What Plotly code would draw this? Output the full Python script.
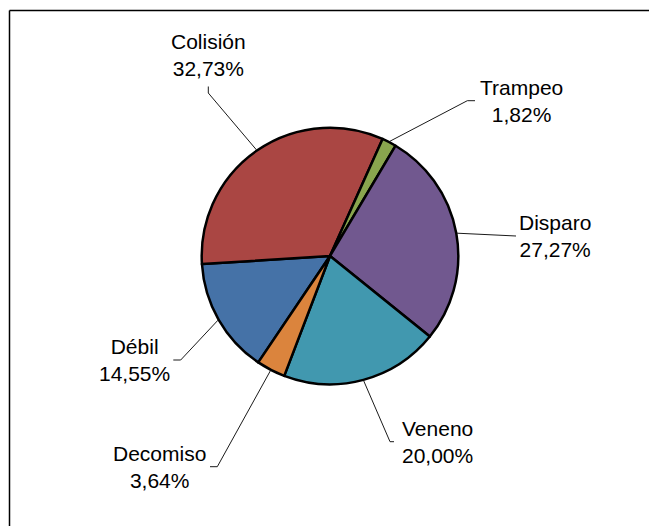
import math
import plotly.graph_objects as go

# ---- data ----
categories = ["Débil", "Colisión", "Trampeo", "Disparo", "Veneno", "Decomiso"]
percentages = [14.55, 32.73, 1.82, 27.27, 20.00, 3.64]
colors = ["#4572A7", "#AA4643", "#89A54E", "#71588F", "#4198AF", "#DB843D"]

# ---- layout constants (pixels) ----
W, H = 649, 526
CX, CY = 330.0, 256.0        # pie centre
R = 128.3                    # pie radius (outline adds ~1px)
ROTATION = 214               # start angle of first slice, clockwise from 12 o'clock
FONT = dict(family="Liberation Sans, Arial, sans-serif", size=21, color="#000000")

# label text centre, leader elbow and leader end (pixels)
label_layout = {
    "Colisión": dict(text=(208.5, 54.5), elbow=(208.3, 93.0), end=(208.3, 86.5)),
    "Trampeo":  dict(text=(521.7, 100.5), elbow=(467.3, 100.7), end=(475.0, 100.7)),
    "Disparo":  dict(text=(555.0, 236.0), elbow=(516.0, 236.0), end=(516.0, 236.0)),
    "Veneno":   dict(text=(437.5, 442.0), elbow=(390.0, 441.7), end=(394.0, 441.7)),
    "Débil":    dict(text=(134.0, 359.5), elbow=(180.7, 360.0), end=(173.3, 360.0)),
    "Decomiso": dict(text=(159.0, 467.0), elbow=(217.3, 466.7), end=(210.0, 466.7)),
}


def px(x):
    return x / W


def py(y):
    return 1 - y / H


fig = go.Figure()
fig.add_trace(go.Pie(
    labels=categories,
    values=percentages,
    sort=False,
    direction="clockwise",
    rotation=ROTATION,
    marker=dict(colors=colors, line=dict(color="#000000", width=2.5)),
    textinfo="none",
    hoverinfo="skip",
    showlegend=False,
    domain=dict(x=[px(CX - R), px(CX + R)], y=[py(CY + R), py(CY - R)]),
))

total = sum(percentages)
shapes = []
annotations = []
cum = 0.0
for cat, val in zip(categories, percentages):
    mid = math.radians(ROTATION + (cum + val / 2) / total * 360)
    cum += val
    rx = CX + (R + 0.8) * math.sin(mid)
    ry = CY - (R + 0.8) * math.cos(mid)
    lay = label_layout[cat]
    ex, ey = lay["elbow"]
    tx, ty = lay["end"]
    path = f"M {px(rx)},{py(ry)} L {px(ex)},{py(ey)} L {px(tx)},{py(ty)}"
    shapes.append(dict(type="path", xref="paper", yref="paper", path=path,
                       line=dict(color="#1a1a1a", width=1)))
    label = f"{cat}<br>{val:.2f}%".replace(".", ",")
    annotations.append(dict(x=px(lay["text"][0]), y=py(lay["text"][1]),
                            xref="paper", yref="paper", text=label,
                            showarrow=False, xanchor="center", yanchor="middle",
                            align="center", font=FONT))

# chart-area border (only top and left edges visible in the picture)
shapes.append(dict(type="line", xref="paper", yref="paper",
                   x0=px(9.5), y0=py(10.5), x1=px(W + 5), y1=py(10.5),
                   line=dict(color="#000000", width=1.5)))
shapes.append(dict(type="line", xref="paper", yref="paper",
                   x0=px(9.5), y0=py(10.5), x1=px(9.5), y1=py(H + 5),
                   line=dict(color="#000000", width=1.5)))

fig.update_layout(
    width=W, height=H,
    margin=dict(l=0, r=0, t=0, b=0),
    paper_bgcolor="#FFFFFF",
    plot_bgcolor="#FFFFFF",
    shapes=shapes,
    annotations=annotations,
)

fig.write_html(
    "out.html",
    config={"displayModeBar": False},
    post_script="document.body.style.margin='0';document.body.style.overflow='hidden';",
)
